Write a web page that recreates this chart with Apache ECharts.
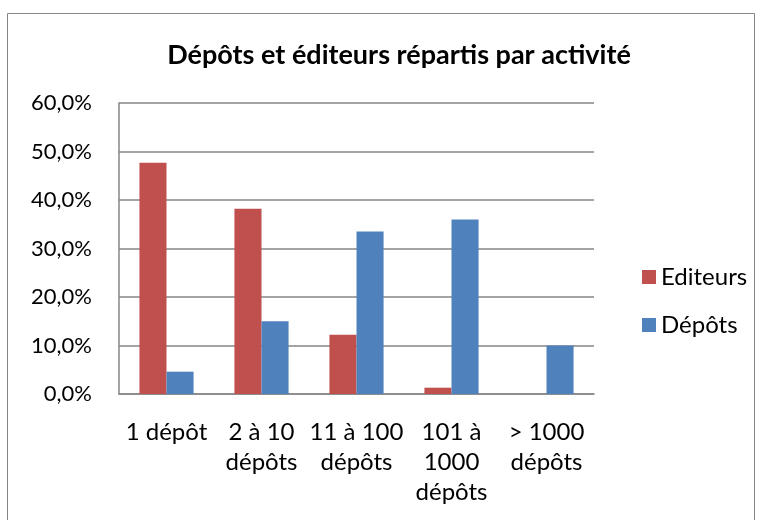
<!DOCTYPE html>
<html>
<head>
<meta charset="utf-8">
<script src="https://cdn.jsdelivr.net/npm/echarts@6/dist/echarts.min.js"></script>
<style>
  html, body { margin: 0; padding: 0; background: #fff; }
  #chart { width: 762px; height: 520px; }
</style>
</head>
<body>
<div id="chart"></div>
<script>
// categories and values (percent)
var categories = ["1 dépôt", "2 à 10\ndépôts", "11 à 100\ndépôts", "101 à\n1000\ndépôts", "> 1000\ndépôts"];
var editeurs = [47.7, 38.2, 12.2, 1.3, 0];
var depots = [4.6, 15.0, 33.5, 36.0, 10.0];
var seriesNames = ["Editeurs", "Dépôts"];

var font = "Lato, 'Open Sans', sans-serif";
var myChart = echarts.init(document.getElementById("chart"));

var option = {
  animation: false,
  backgroundColor: "#fff",
  textStyle: { fontFamily: font, color: "#000" },
  graphic: [
    {
      type: "rect",
      shape: { x: 7.5, y: 13.5, width: 747, height: 520 },
      style: { fill: null, stroke: "#868686", lineWidth: 1 }
    }
  ],
  title: {
    text: "Dépôts et éditeurs répartis par activité",
    left: 394,
    textAlign: "center",
    top: 37,
    textStyle: { fontFamily: font, fontSize: 27, fontWeight: "bold", color: "#000" }
  },
  legend: {
    orient: "vertical",
    left: 637,
    top: 260,
    itemWidth: 14,
    itemHeight: 14,
    itemGap: 24,
    icon: "rect",
    data: seriesNames,
    textStyle: { fontFamily: font, fontSize: 24, color: "#000", lineHeight: 24 }
  },
  grid: { left: 119, right: 168, top: 103, bottom: 126 },
  xAxis: {
    type: "category",
    data: categories,
    axisLine: { show: true, lineStyle: { color: "#868686", width: 1.5 } },
    axisTick: { show: false },
    axisLabel: {
      interval: 0,
      margin: 23,
      fontFamily: font,
      fontSize: 24,
      lineHeight: 30,
      color: "#000"
    }
  },
  yAxis: {
    type: "value",
    min: 0,
    max: 60,
    interval: 10,
    axisLine: { show: true, lineStyle: { color: "#868686", width: 1.5 } },
    axisTick: { show: false },
    splitLine: { show: true, lineStyle: { color: "#868686", width: 1.5 } },
    axisLabel: {
      margin: 27,
      fontFamily: font,
      fontSize: 22,
      color: "#000",
      formatter: function (v) { return v.toFixed(1).replace(".", ",") + "%"; }
    }
  },
  series: [
    {
      name: seriesNames[0],
      type: "bar",
      data: editeurs,
      barGap: "0%",
      barCategoryGap: "43%",
      itemStyle: { color: "#C0504D" }
    },
    {
      name: seriesNames[1],
      type: "bar",
      data: depots,
      barGap: "0%",
      barCategoryGap: "43%",
      itemStyle: { color: "#4F81BD" }
    }
  ]
};
myChart.setOption(option);
</script>
</body>
</html>
